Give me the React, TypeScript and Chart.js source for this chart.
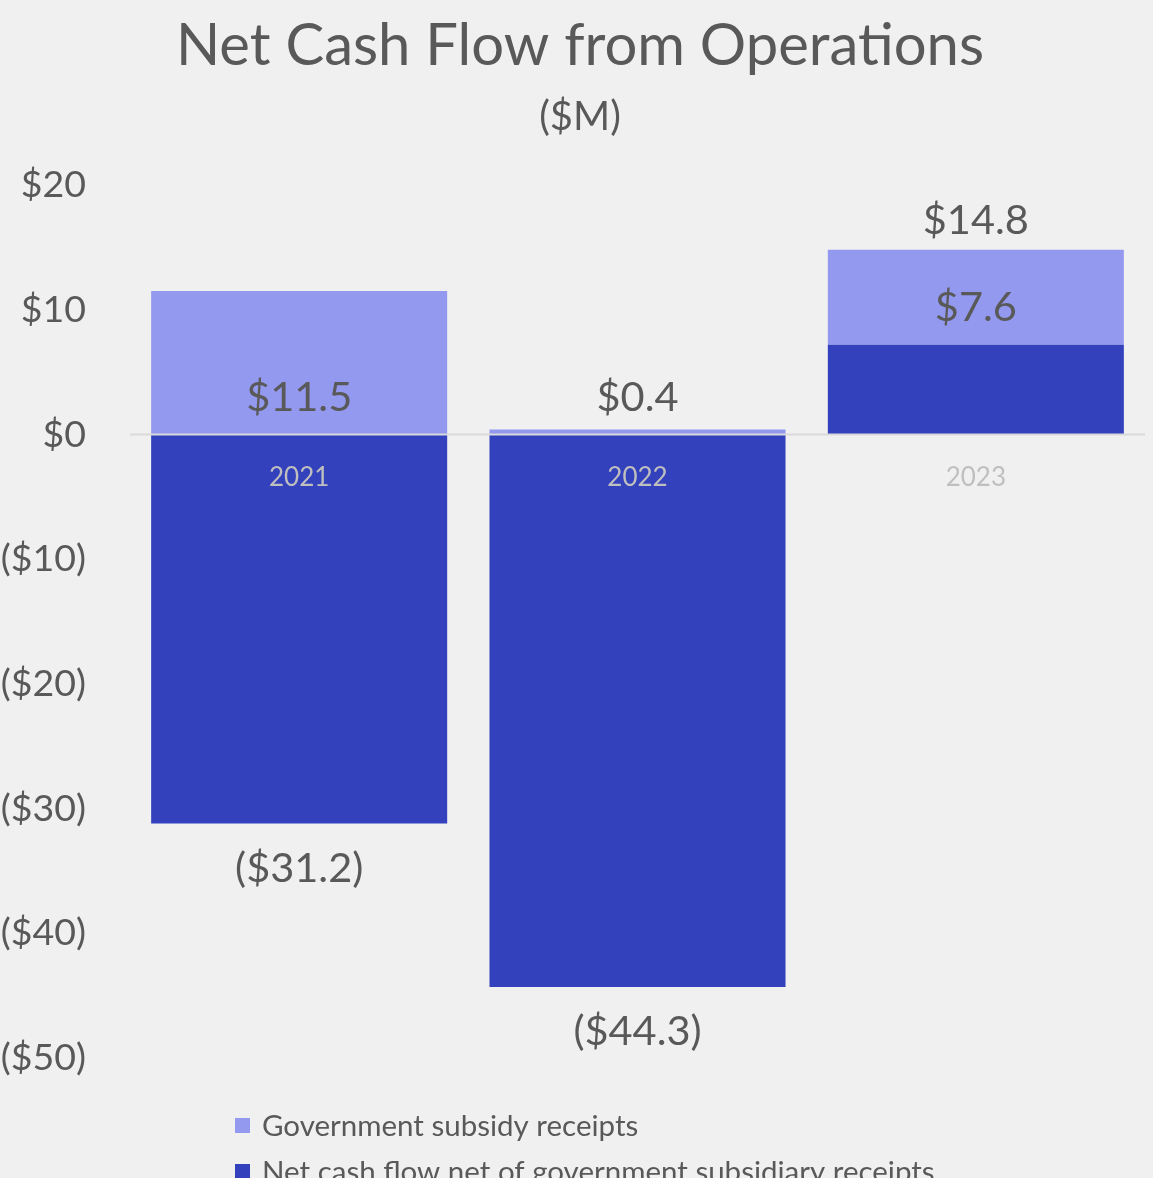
import React, { useEffect, useRef } from "react";
import { Chart, registerables } from "chart.js";

Chart.register(...registerables);

const years = ["2021", "2022", "2023"];
const subsidyReceipts = [11.5, 0.4, 7.6];
const netOfSubsidy = [-31.2, -44.3, 7.2];
const totalLabels: (number | null)[] = [null, null, 14.8];
const yMin = -50;
const yMax = 20;
const yStep = 10;
const titleText = "Net Cash Flow from Operations";
const subtitleText = "($M)";
const legendLabels = ["Government subsidy receipts", "Net cash flow net of government subsidiary receipts"];

const LIGHT = "#9399EE";
const DARK = "#3341BD";
const TEXT = "#595959";
const BG = "#F0F0F0";
const FONT = "Lato, 'Open Sans', sans-serif";

const fmt = (v: number) => (v < 0 ? `($${Math.abs(v).toFixed(1)})` : `$${v.toFixed(1)}`);

const overlay = {
  id: "overlay",
  afterDatasetsDraw(chart: any) {
    const ctx = chart.ctx;
    const area = chart.chartArea;
    const y = chart.scales.y;
    const zeroY = y.getPixelForValue(0);
    ctx.save();
    // zero line
    ctx.strokeStyle = "#D9D9D9";
    ctx.lineWidth = 2;
    ctx.beginPath();
    ctx.moveTo(area.left, zeroY);
    ctx.lineTo(area.right, zeroY);
    ctx.stroke();

    const netMeta = chart.getDatasetMeta(0);
    const subMeta = chart.getDatasetMeta(1);
    ctx.textAlign = "center";
    ctx.textBaseline = "middle";

    // category labels
    ctx.font = `26px ${FONT}`;
    ctx.fillStyle = "#BFBFBF";
    years.forEach((yr, i) => {
      ctx.fillText(yr, netMeta.data[i].x, zeroY + 43);
    });

    ctx.fillStyle = TEXT;
    ctx.font = `41.5px ${FONT}`;
    // subsidy labels, inside base
    subsidyReceipts.forEach((v, i) => {
      const el = subMeta.data[i];
      ctx.fillText(fmt(v), el.x, el.base - 37);
    });
    // negative net labels below the bar
    netOfSubsidy.forEach((v, i) => {
      if (v < 0) {
        const el = netMeta.data[i];
        ctx.fillText(fmt(v), el.x, el.y + 45);
      }
    });
    // totals
    totalLabels.forEach((v, i) => {
      if (v !== null) {
        const el = subMeta.data[i];
        ctx.fillText(fmt(v), el.x, el.y - 29);
      }
    });

    // title
    ctx.font = `58px ${FONT}`;
    ctx.fillText(titleText, 580, 46);
    ctx.font = `40px ${FONT}`;
    ctx.fillText(subtitleText, 580, 117);

    // legend
    const colors = [LIGHT, DARK];
    ctx.textAlign = "left";
    ctx.font = `29.5px ${FONT}`;
    legendLabels.forEach((t, i) => {
      const cy = 1126 + i * 46;
      ctx.fillStyle = colors[i];
      ctx.fillRect(235, cy - 8, 15, 15);
      ctx.fillStyle = TEXT;
      ctx.fillText(t, 262, cy);
    });
    ctx.restore();
  },
};

export default function App() {
  const ref = useRef<HTMLCanvasElement>(null);
  useEffect(() => {
    document.body.style.background = BG;
    if (!ref.current) return;
    const chart = new Chart(ref.current, {
      type: "bar",
      data: {
        labels: years,
        datasets: [
          {
            label: legendLabels[1],
            data: netOfSubsidy,
            backgroundColor: DARK,
            barPercentage: 0.875,
            categoryPercentage: 1,
          },
          {
            label: legendLabels[0],
            data: subsidyReceipts,
            backgroundColor: LIGHT,
            barPercentage: 0.875,
            categoryPercentage: 1,
          },
        ],
      },
      options: {
        responsive: false,
        animation: false,
        layout: { padding: { top: 185, bottom: 142, left: 0, right: 8 } },
        plugins: { legend: { display: false }, tooltip: { enabled: false }, title: { display: false } },
        scales: {
          x: { stacked: true, display: false },
          y: {
            stacked: true,
            min: yMin,
            max: yMax,
            grid: { display: false, drawTicks: false },
            border: { display: false },
            ticks: {
              stepSize: yStep,
              padding: 44,
              color: TEXT,
              font: { family: FONT, size: 37.5 },
              callback: (v: any) => (v < 0 ? `($${Math.abs(v)})` : `$${v}`),
            },
            afterFit: (s: any) => {
              s.width = 130;
            },
          },
        },
      },
      plugins: [overlay],
    });
    return () => chart.destroy();
  }, []);
  return (
    <div style={{ position: "absolute", left: 0, top: 0, background: BG, width: 1153, height: 1200 }}>
      <canvas ref={ref} width={1153} height={1200} style={{ display: "block" }} />
    </div>
  );
}
